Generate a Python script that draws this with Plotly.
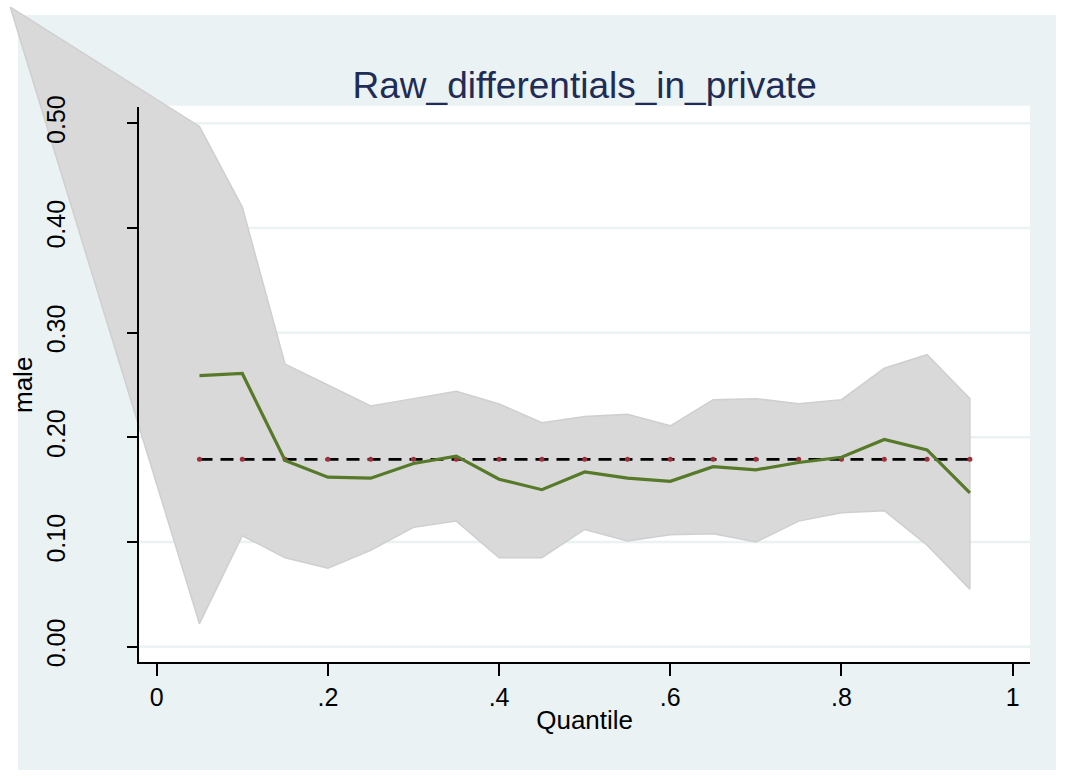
import plotly.graph_objects as go

# Quantile regression estimates for the "male" coefficient
quantiles = [0.05, 0.10, 0.15, 0.20, 0.25, 0.30, 0.35, 0.40, 0.45, 0.50,
             0.55, 0.60, 0.65, 0.70, 0.75, 0.80, 0.85, 0.90, 0.95]
coef = [0.259, 0.261, 0.178, 0.162, 0.161, 0.175, 0.182, 0.160, 0.150, 0.167,
        0.161, 0.158, 0.172, 0.169, 0.176, 0.181, 0.198, 0.188, 0.147]
ci_upper = [0.497, 0.420, 0.270, 0.250, 0.230, 0.237, 0.244, 0.232, 0.214, 0.220,
            0.222, 0.211, 0.236, 0.237, 0.232, 0.236, 0.266, 0.279, 0.237]
ci_lower = [0.022, 0.106, 0.085, 0.075, 0.092, 0.114, 0.120, 0.085, 0.085, 0.112,
            0.101, 0.107, 0.108, 0.100, 0.120, 0.128, 0.130, 0.097, 0.055]
ols_coef = 0.179

# first vertex of the shaded confidence area as stored in the graph
area_origin_x = -0.171
area_origin_y = 0.611

x_ticks = [0, 0.2, 0.4, 0.6, 0.8, 1.0]
x_ticktext = ["0", ".2", ".4", ".6", ".8", "1"]
y_ticks = [0.0, 0.1, 0.2, 0.3, 0.4, 0.5]
y_ticktext = ["0.00", "0.10", "0.20", "0.30", "0.40", "0.50"]

W, H = 1070, 780
FONT = "Liberation Sans, Arial, Helvetica, sans-serif"
BG = "#EAF2F3"
GRID = "#EAF2F3"

# framed plot region (paper fractions) and its data ranges
dom_x = [0.1302, 0.9626]
dom_y = [0.1509, 0.8624]
rng_x = [-0.0203, 1.0202]
rng_y = [-0.0149, 0.5153]


def full_range(rng, dom):
    """Extend a range so that an axis spanning the whole paper keeps the same scale."""
    s = (rng[1] - rng[0]) / (dom[1] - dom[0])
    return [rng[0] - dom[0] * s, rng[0] + (1 - dom[0]) * s]


fig = go.Figure()

# shaded confidence band (drawn on the full-paper axes so it is not clipped by the frame)
band_x = [area_origin_x] + quantiles + quantiles[::-1] + [area_origin_x]
band_y = [area_origin_y] + ci_upper + ci_lower[::-1] + [area_origin_y]
fig.add_trace(go.Scatter(
    x=band_x, y=band_y, mode="lines", fill="toself",
    fillcolor="#D9D9D9", line=dict(color="#CFCFCF", width=1.5),
    xaxis="x", yaxis="y", hoverinfo="skip", showlegend=False,
))

# OLS estimate
fig.add_trace(go.Scatter(
    x=quantiles, y=[ols_coef] * len(quantiles), mode="lines+markers",
    line=dict(color="black", width=2.6, dash="13px,8px"),
    marker=dict(color="#9E2F3C", size=5),
    xaxis="x", yaxis="y", showlegend=False,
))

# quantile coefficients
fig.add_trace(go.Scatter(
    x=quantiles, y=coef, mode="lines",
    line=dict(color="#56792A", width=3.2),
    xaxis="x", yaxis="y", showlegend=False,
))

shapes = [
    # graph region
    dict(type="rect", xref="paper", yref="paper",
         x0=18 / W, x1=1056 / W, y0=1 - 770 / H, y1=1 - 15 / H,
         fillcolor=BG, line=dict(width=0), layer="below"),
    # plot region
    dict(type="rect", xref="paper", yref="paper",
         x0=dom_x[0], x1=dom_x[1], y0=dom_y[0], y1=dom_y[1] + 0.002,
         fillcolor="white", line=dict(width=0), layer="below"),
]
for v in y_ticks:
    shapes.append(dict(type="line", xref="paper", yref="y2",
                       x0=dom_x[0], x1=dom_x[1], y0=v, y1=v,
                       line=dict(color=GRID, width=2.5), layer="below"))

fig.update_layout(
    width=W, height=H,
    autosize=False,
    margin=dict(l=0, r=0, t=0, b=0, pad=0, autoexpand=False),
    paper_bgcolor="white",
    plot_bgcolor="rgba(0,0,0,0)",
    font=dict(family=FONT, color="black", size=24),
    shapes=shapes,
    title=dict(text="Raw_differentials_in_private",
               x=(dom_x[0] + dom_x[1]) / 2, xanchor="center",
               y=1 - 85 / H, yanchor="middle", automargin=False,
               font=dict(family=FONT, size=37, color="#1E2C56")),
    xaxis=dict(domain=[0, 1], range=full_range(rng_x, dom_x), visible=False,
               fixedrange=True, automargin=False),
    yaxis=dict(domain=[0, 1], range=full_range(rng_y, dom_y), visible=False,
               fixedrange=True, automargin=False),
    xaxis2=dict(domain=dom_x, range=rng_x, anchor="y2", automargin=False,
                tickmode="array", tickvals=x_ticks, ticktext=x_ticktext,
                ticks="outside", ticklen=12, tickwidth=1.5, tickcolor="black",
                showline=True, linecolor="black", linewidth=1.5,
                showgrid=False, zeroline=False,
                tickfont=dict(size=25), ticklabelstandoff=0,
                title=dict(text="Quantile", font=dict(size=26), standoff=1)),
    yaxis2=dict(domain=dom_y, range=rng_y, anchor="x2", automargin=False,
                tickmode="array", tickvals=y_ticks, ticktext=y_ticktext,
                tickangle=-90,
                ticks="outside", ticklen=11, tickwidth=1.5, tickcolor="black",
                showline=True, linecolor="black", linewidth=1.5,
                showgrid=False, zeroline=False,
                tickfont=dict(size=25), ticklabelstandoff=52,
                title=dict(text="male", font=dict(size=26), standoff=1)),
)

fig.write_html("out.html")
